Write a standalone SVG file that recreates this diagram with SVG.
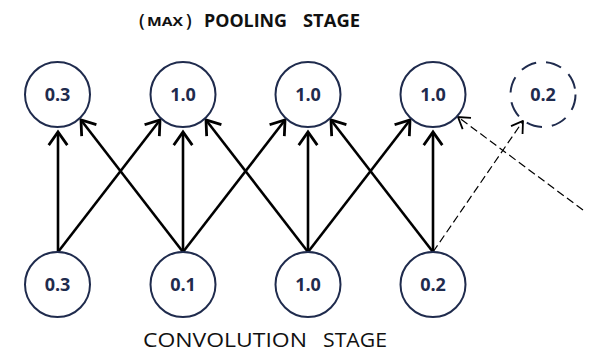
<svg xmlns="http://www.w3.org/2000/svg" width="589" height="356" viewBox="0 0 589 356">
  <style>
    .node { fill: #ffffff; stroke: #1f2b4d; stroke-width: 2; }
    .node.dashed { stroke-dasharray: 16 10; }
    .val { font-family: "Open Sans", "Liberation Sans", sans-serif; font-weight: bold; font-size: 18px; fill: #1f2b4d; text-anchor: middle; }
    .title { font-family: "Open Sans", "Liberation Sans", sans-serif; fill: #111111; }
    .link { stroke: #000000; stroke-width: 2.6; fill: none; marker-end: url(#head); }
    .link.dash { stroke-width: 1.2; stroke-dasharray: 8 4; marker-end: url(#headThin); }
  </style>
  <defs>
    <marker id="head" markerUnits="userSpaceOnUse" markerWidth="24" markerHeight="24" viewBox="-16 -12 18 24" refX="0" refY="0" orient="auto">
      <path d="M-12,-8.5 L0,0 L-12,8.5" fill="none" stroke="#000" stroke-width="2.8" stroke-linecap="square"/>
    </marker>
    <marker id="headThin" markerUnits="userSpaceOnUse" markerWidth="24" markerHeight="24" viewBox="-16 -12 18 24" refX="0" refY="0" orient="auto">
      <path d="M-11,-7 L0,0 L-11,7" fill="none" stroke="#000" stroke-width="1.8"/>
    </marker>
  </defs>

  <rect width="589" height="356" fill="#ffffff"/>

  <!-- stage titles -->
  <text class="title" x="139" y="27" font-size="18" font-weight="600">(</text>
  <text class="title" x="147" y="26" font-size="13" font-weight="bold" textLength="36" lengthAdjust="spacingAndGlyphs">MAX</text>
  <text class="title" x="186" y="27" font-size="18" font-weight="600">)</text>
  <text class="title" x="204" y="27" font-size="18" font-weight="bold" textLength="83" lengthAdjust="spacingAndGlyphs">POOLING</text>
  <text class="title" x="303" y="27" font-size="18" font-weight="bold" textLength="57" lengthAdjust="spacingAndGlyphs">STAGE</text>
  <text class="title" x="143" y="347" font-size="20" textLength="164" lengthAdjust="spacingAndGlyphs">CONVOLUTION</text>
  <text class="title" x="323" y="347" font-size="20" textLength="64" lengthAdjust="spacingAndGlyphs">STAGE</text>

  <!-- connectors -->
  <g id="connectors">
    <line class="link" x1="58" y1="252" x2="58" y2="132"/>
    <line class="link" x1="58" y1="252" x2="160" y2="120"/>
    <line class="link" x1="183" y1="252" x2="81" y2="120"/>
    <line class="link" x1="183" y1="252" x2="183" y2="132"/>
    <line class="link" x1="183" y1="252" x2="285" y2="120"/>
    <line class="link" x1="308" y1="252" x2="206" y2="120"/>
    <line class="link" x1="308" y1="252" x2="308" y2="132"/>
    <line class="link" x1="308" y1="252" x2="410" y2="120"/>
    <line class="link" x1="433" y1="252" x2="331" y2="120"/>
    <line class="link" x1="433" y1="252" x2="433" y2="132"/>
    <line class="link dash" x1="433" y1="252" x2="523" y2="121"/>
    <line class="link dash" x1="583" y1="210" x2="458" y2="117"/>
  </g>

  <!-- pooling stage -->
  <g id="pool-1"><circle class="node" cx="57.5" cy="94.5" r="32.5"/><text class="val" x="57.5" y="101">0.3</text></g>
  <g id="pool-2"><circle class="node" cx="183" cy="94.5" r="32.5"/><text class="val" x="183" y="101">1.0</text></g>
  <g id="pool-3"><circle class="node" cx="308" cy="94.5" r="32.5"/><text class="val" x="308" y="101">1.0</text></g>
  <g id="pool-4"><circle class="node" cx="433" cy="94.5" r="32.5"/><text class="val" x="433" y="101">1.0</text></g>
  <g id="pool-5"><circle class="node dashed" cx="543" cy="94.5" r="32.5"/><text class="val" x="543" y="101">0.2</text></g>

  <!-- convolution stage -->
  <g id="conv-1"><circle class="node" cx="57.5" cy="284.5" r="32.5"/><text class="val" x="57.5" y="291">0.3</text></g>
  <g id="conv-2"><circle class="node" cx="183" cy="284.5" r="32.5"/><text class="val" x="183" y="291">0.1</text></g>
  <g id="conv-3"><circle class="node" cx="308" cy="284.5" r="32.5"/><text class="val" x="308" y="291">1.0</text></g>
  <g id="conv-4"><circle class="node" cx="433" cy="284.5" r="32.5"/><text class="val" x="433" y="291">0.2</text></g>
</svg>
